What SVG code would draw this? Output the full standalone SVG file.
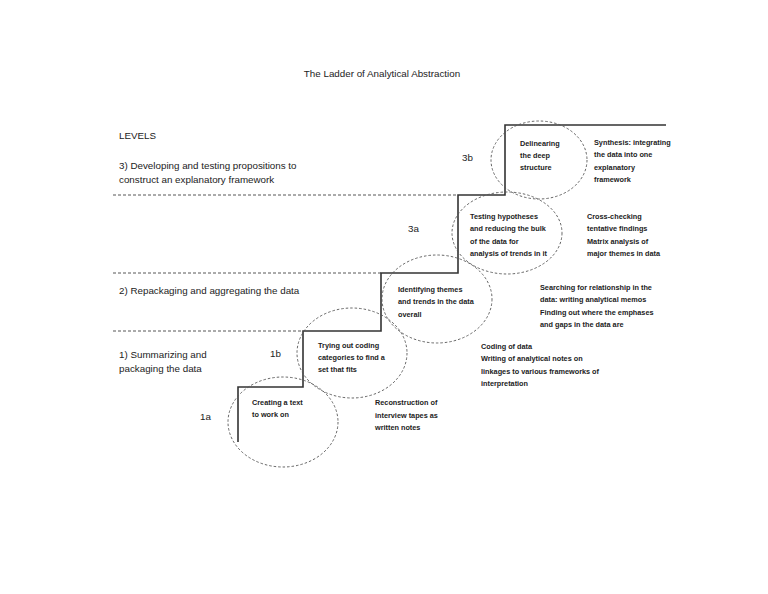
<svg xmlns="http://www.w3.org/2000/svg" width="768" height="594" viewBox="0 0 768 594">
<style>
.lvl{font-family:"Liberation Sans",Arial,sans-serif;font-size:9.8px;fill:#222}
.nt{font-family:"Liberation Sans",Arial,sans-serif;font-size:7.3px;font-weight:bold;fill:#222}
.stair{fill:none;stroke:#333;stroke-width:1.6}
.dl{stroke:#444;stroke-width:0.9;stroke-dasharray:3,2;fill:none}
.el{fill:none;stroke:#555;stroke-width:0.9;stroke-dasharray:2.5,2}
</style>
<rect width="768" height="594" fill="#fff"/>
<text class="lvl" x="382" y="77" text-anchor="middle">The Ladder of Analytical Abstraction</text>
<g id="levels">
<text class="lvl" x="119" y="139">LEVELS</text>
<text class="lvl" x="119" y="169">3) Developing and testing propositions to</text>
<text class="lvl" x="119" y="183">construct an explanatory framework</text>
<text class="lvl" x="119" y="294">2) Repackaging and aggregating the data</text>
<text class="lvl" x="119" y="358">1) Summarizing and</text>
<text class="lvl" x="119" y="372">packaging the data</text>
<text class="lvl" x="200" y="420">1a</text>
<text class="lvl" x="270" y="357">1b</text>
<text class="lvl" x="408" y="232">3a</text>
<text class="lvl" x="462" y="161">3b</text>
</g>
<g id="connectors">
<line class="dl" x1="113" y1="195" x2="458" y2="195"/>
<line class="dl" x1="113" y1="273" x2="381" y2="273"/>
<line class="dl" x1="113" y1="331" x2="303" y2="331"/>
<path class="stair" d="M238 442 V387 H303 V331 H381 V273 H458 V195 H505 V125 H666"/>
</g>
<g id="node-1a">
<ellipse class="el" cx="283" cy="422" rx="55" ry="45"/>
<text class="nt" x="252" y="405">Creating a text</text>
<text class="nt" x="252" y="417">to work on</text>
</g>
<g id="node-1a-note">
<text class="nt" x="375" y="405">Reconstruction of</text>
<text class="nt" x="375" y="418">interview tapes as</text>
<text class="nt" x="375" y="430">written notes</text>
</g>
<g id="node-1b">
<ellipse class="el" cx="352" cy="353" rx="55" ry="45"/>
<text class="nt" x="318" y="348">Trying out coding</text>
<text class="nt" x="318" y="360">categories to find a</text>
<text class="nt" x="318" y="372">set that fits</text>
</g>
<g id="node-1b-note">
<text class="nt" x="481" y="349">Coding of data</text>
<text class="nt" x="481" y="361">Writing of analytical notes on</text>
<text class="nt" x="481" y="374">linkages to various frameworks of</text>
<text class="nt" x="481" y="386">interpretation</text>
</g>
<g id="node-2">
<ellipse class="el" cx="437" cy="299" rx="55" ry="44"/>
<text class="nt" x="398" y="292">Identifying themes</text>
<text class="nt" x="398" y="304">and trends in the data</text>
<text class="nt" x="398" y="317">overall</text>
</g>
<g id="node-2-note">
<text class="nt" x="540" y="290">Searching for relationship in the</text>
<text class="nt" x="540" y="302">data: writing analytical memos</text>
<text class="nt" x="540" y="315">Finding out where the emphases</text>
<text class="nt" x="540" y="327">and gaps in the data are</text>
</g>
<g id="node-3a">
<ellipse class="el" cx="507" cy="233" rx="55" ry="41"/>
<text class="nt" x="470" y="219">Testing hypotheses</text>
<text class="nt" x="470" y="231">and reducing the bulk</text>
<text class="nt" x="470" y="244">of the data for</text>
<text class="nt" x="470" y="256">analysis of trends in it</text>
</g>
<g id="node-3a-note">
<text class="nt" x="587" y="219">Cross-checking</text>
<text class="nt" x="587" y="231">tentative findings</text>
<text class="nt" x="587" y="244">Matrix analysis of</text>
<text class="nt" x="587" y="256">major themes in data</text>
</g>
<g id="node-3b">
<ellipse class="el" cx="539" cy="160" rx="48" ry="39"/>
<text class="nt" x="520" y="146">Delinearing</text>
<text class="nt" x="520" y="158">the deep</text>
<text class="nt" x="520" y="170">structure</text>
</g>
<g id="node-3b-note">
<text class="nt" x="594" y="145">Synthesis: integrating</text>
<text class="nt" x="594" y="157">the data into one</text>
<text class="nt" x="594" y="170">explanatory</text>
<text class="nt" x="594" y="182">framework</text>
</g>
</svg>
